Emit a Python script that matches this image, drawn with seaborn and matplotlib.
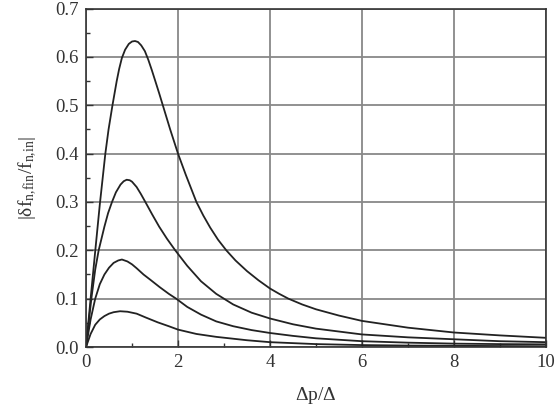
import matplotlib
matplotlib.use("Agg")
import matplotlib.pyplot as plt
import matplotlib.ticker as mticker
import pandas as pd
import seaborn as sns

# ─── Data ─────────────────────────────────────────────────────────────────────
x1 = [0, 0.1, 0.2, 0.3, 0.42, 0.49, 0.575, 0.667, 0.72, 0.78, 0.85, 0.93,
      1.0, 1.065, 1.13, 1.2, 1.28, 1.355, 1.43, 1.507, 1.59, 1.67, 1.75,
      1.83, 2.0, 2.17, 2.4, 2.55, 2.7, 2.87, 3.05, 3.25, 3.5, 3.75, 4.0,
      4.2, 4.4, 4.7, 5, 5.5, 6, 7, 8, 9, 10]
y1 = [0, 0.100, 0.198, 0.295, 0.400, 0.450, 0.500, 0.550, 0.575, 0.598,
      0.615, 0.627, 0.632, 0.633, 0.631, 0.624, 0.612, 0.594, 0.573, 0.550,
      0.525, 0.500, 0.475, 0.450, 0.400, 0.356, 0.300, 0.272, 0.247, 0.222,
      0.200, 0.179, 0.157, 0.138, 0.121, 0.110, 0.100, 0.088, 0.078, 0.065,
      0.054, 0.040, 0.030, 0.024, 0.019]

x2 = [0, 0.116, 0.2, 0.275, 0.4, 0.48, 0.565, 0.65, 0.75, 0.82, 0.884, 0.95,
      1.0, 1.1, 1.19, 1.29, 1.44, 1.59, 1.76, 1.94, 2.2, 2.5, 2.83, 3.2, 3.6,
      4.0, 4.5, 5, 6, 7, 8, 9, 10]
y2 = [0, 0.100, 0.160, 0.200, 0.249, 0.277, 0.300, 0.320, 0.336, 0.343,
      0.346, 0.345, 0.342, 0.331, 0.317, 0.300, 0.274, 0.249, 0.224, 0.200,
      0.168, 0.136, 0.110, 0.088, 0.071, 0.059, 0.047, 0.038, 0.026, 0.020,
      0.016, 0.012, 0.010]

x3 = [0, 0.1, 0.2, 0.3, 0.4, 0.5, 0.6, 0.7, 0.78, 0.9, 1.0, 1.1, 1.25, 1.4,
      1.6, 1.8, 1.96, 2.2, 2.5, 2.83, 3.2, 3.6, 4, 4.5, 5, 6, 7, 8, 9, 10]
y3 = [0, 0.057, 0.100, 0.130, 0.150, 0.164, 0.174, 0.179, 0.181, 0.177,
      0.171, 0.163, 0.150, 0.139, 0.124, 0.110, 0.100, 0.083, 0.067, 0.053,
      0.043, 0.035, 0.029, 0.023, 0.018, 0.012, 0.009, 0.007, 0.006, 0.0055]

x4 = [0, 0.1, 0.2, 0.3, 0.4, 0.5, 0.6, 0.74, 0.9, 1.1, 1.3, 1.56, 1.8, 2.0,
      2.4, 2.83, 3.5, 4, 5, 6, 7, 8, 9, 10]
y4 = [0, 0.027, 0.046, 0.057, 0.064, 0.069, 0.072, 0.074, 0.073, 0.069,
      0.061, 0.051, 0.043, 0.036, 0.027, 0.021, 0.014, 0.010, 0.006, 0.004,
      0.003, 0.0025, 0.002, 0.0015]

x_ticks = [0, 2, 4, 6, 8, 10]
y_ticks = [0.0, 0.1, 0.2, 0.3, 0.4, 0.5, 0.6, 0.7]

sns.set_theme(style="white")
plt.rcParams["font.family"] = ["Liberation Serif"]
plt.rcParams["mathtext.fontset"] = "custom"
plt.rcParams["mathtext.rm"] = "Liberation Serif"

frames = []
for i, (xs, ys) in enumerate([(x1, y1), (x2, y2), (x3, y3), (x4, y4)]):
    frames.append(pd.DataFrame({"x": xs, "y": ys, "curve": f"c{i + 1}"}))
df = pd.concat(frames, ignore_index=True)

fig = plt.figure(figsize=(5.56, 4.11), dpi=100)
ax = fig.add_axes([0.1547, 0.1557, 0.8273, 0.8233])

ax.grid(True, color="#888888", lw=1.3)
ax.set_axisbelow(True)

sns.lineplot(data=df, x="x", y="y", units="curve", estimator=None, sort=False,
             color="#222222", lw=1.3, ax=ax)

ax.set_xlim(0, 10)
ax.set_ylim(0, 0.7)
ax.set_xticks(x_ticks)
ax.set_yticks(y_ticks)
ax.xaxis.set_minor_locator(mticker.MultipleLocator(1))
ax.yaxis.set_minor_locator(mticker.MultipleLocator(0.05))
ax.yaxis.set_major_formatter(mticker.FormatStrFormatter("%.1f"))
ax.tick_params(which="both", direction="in", bottom=True, left=True,
               top=False, right=False, colors="#333333", labelcolor="#333333",
               labelsize=13.5)
ax.tick_params(which="major", length=5, width=1.0, pad=5)
ax.tick_params(which="minor", length=3, width=1.0)
for s in ax.spines.values():
    s.set_color("#333333")
    s.set_linewidth(1.2)

ax.set_xlabel(r"$\mathrm{\Delta p/\Delta}$", fontsize=14, color="#333333",
              labelpad=10)
ax.set_ylabel(r"$\mathrm{|\delta f_{n,\!fin}/f_{n,\!in}|}$", fontsize=14,
              color="#333333", labelpad=12)

fig.savefig("out.png", dpi=100)
